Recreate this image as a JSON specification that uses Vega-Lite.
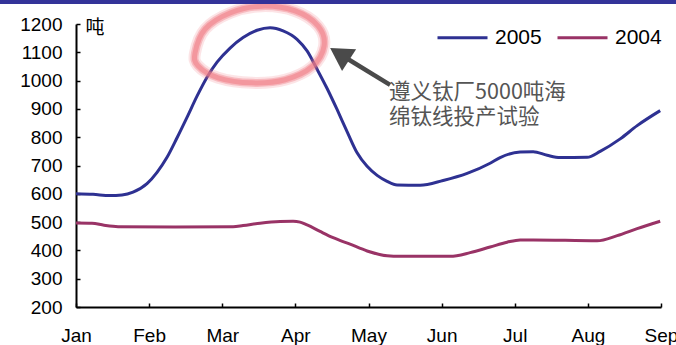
{
  "$schema": "https://vega.github.io/schema/vega-lite/v6.json",
  "width": 585,
  "height": 283,
  "autosize": {"type": "none"},
  "padding": {"left": 76, "top": 24, "right": 15, "bottom": 38},
  "background": "white",
  "config": {
    "view": {"stroke": null},
    "font": "Liberation Sans"
  },
  "datasets": {
    "output": [
      {"year": "2005", "t": 0.000, "tons": 600},
      {"year": "2005", "t": 0.233, "tons": 598},
      {"year": "2005", "t": 0.465, "tons": 594},
      {"year": "2005", "t": 0.629, "tons": 596},
      {"year": "2005", "t": 0.780, "tons": 606},
      {"year": "2005", "t": 0.971, "tons": 636},
      {"year": "2005", "t": 1.108, "tons": 676},
      {"year": "2005", "t": 1.245, "tons": 729},
      {"year": "2005", "t": 1.382, "tons": 798},
      {"year": "2005", "t": 1.518, "tons": 870},
      {"year": "2005", "t": 1.655, "tons": 945},
      {"year": "2005", "t": 1.792, "tons": 1012},
      {"year": "2005", "t": 1.929, "tons": 1065},
      {"year": "2005", "t": 2.107, "tons": 1115},
      {"year": "2005", "t": 2.285, "tons": 1152},
      {"year": "2005", "t": 2.476, "tons": 1178},
      {"year": "2005", "t": 2.654, "tons": 1187},
      {"year": "2005", "t": 2.832, "tons": 1176},
      {"year": "2005", "t": 3.023, "tons": 1146},
      {"year": "2005", "t": 3.160, "tons": 1105},
      {"year": "2005", "t": 3.297, "tons": 1040},
      {"year": "2005", "t": 3.434, "tons": 972},
      {"year": "2005", "t": 3.570, "tons": 898},
      {"year": "2005", "t": 3.707, "tons": 820},
      {"year": "2005", "t": 3.844, "tons": 745},
      {"year": "2005", "t": 3.981, "tons": 697},
      {"year": "2005", "t": 4.118, "tons": 665},
      {"year": "2005", "t": 4.254, "tons": 644},
      {"year": "2005", "t": 4.391, "tons": 631},
      {"year": "2005", "t": 4.706, "tons": 630},
      {"year": "2005", "t": 5.021, "tons": 647},
      {"year": "2005", "t": 5.349, "tons": 672},
      {"year": "2005", "t": 5.663, "tons": 708},
      {"year": "2005", "t": 5.800, "tons": 728},
      {"year": "2005", "t": 6.074, "tons": 748},
      {"year": "2005", "t": 6.252, "tons": 749},
      {"year": "2005", "t": 6.443, "tons": 736},
      {"year": "2005", "t": 6.621, "tons": 728},
      {"year": "2005", "t": 6.990, "tons": 729},
      {"year": "2005", "t": 7.168, "tons": 750},
      {"year": "2005", "t": 7.442, "tons": 794},
      {"year": "2005", "t": 7.674, "tons": 841},
      {"year": "2005", "t": 7.989, "tons": 894},
      {"year": "2004", "t": 0.000, "tons": 497},
      {"year": "2004", "t": 0.219, "tons": 496},
      {"year": "2004", "t": 0.383, "tons": 489},
      {"year": "2004", "t": 0.575, "tons": 484},
      {"year": "2004", "t": 1.354, "tons": 483},
      {"year": "2004", "t": 2.148, "tons": 484},
      {"year": "2004", "t": 2.285, "tons": 488},
      {"year": "2004", "t": 2.517, "tons": 496},
      {"year": "2004", "t": 2.791, "tons": 502},
      {"year": "2004", "t": 2.969, "tons": 503},
      {"year": "2004", "t": 3.064, "tons": 500},
      {"year": "2004", "t": 3.160, "tons": 490},
      {"year": "2004", "t": 3.338, "tons": 467},
      {"year": "2004", "t": 3.516, "tons": 445},
      {"year": "2004", "t": 3.748, "tons": 422},
      {"year": "2004", "t": 3.981, "tons": 398},
      {"year": "2004", "t": 4.254, "tons": 381},
      {"year": "2004", "t": 4.432, "tons": 379},
      {"year": "2004", "t": 5.116, "tons": 379},
      {"year": "2004", "t": 5.390, "tons": 392},
      {"year": "2004", "t": 5.663, "tons": 412},
      {"year": "2004", "t": 5.896, "tons": 429},
      {"year": "2004", "t": 6.074, "tons": 437},
      {"year": "2004", "t": 6.252, "tons": 437},
      {"year": "2004", "t": 7.127, "tons": 434},
      {"year": "2004", "t": 7.401, "tons": 452},
      {"year": "2004", "t": 7.674, "tons": 477},
      {"year": "2004", "t": 7.989, "tons": 503}
    ],
    "ring": [
      {"i": 0, "t": 1.628, "tons": 1098},
      {"i": 1, "t": 1.765, "tons": 1182},
      {"i": 2, "t": 2.107, "tons": 1239},
      {"i": 3, "t": 2.544, "tons": 1263},
      {"i": 4, "t": 2.996, "tons": 1246},
      {"i": 5, "t": 3.311, "tons": 1193},
      {"i": 6, "t": 3.393, "tons": 1123},
      {"i": 7, "t": 3.228, "tons": 1049},
      {"i": 8, "t": 2.859, "tons": 1003},
      {"i": 9, "t": 2.408, "tons": 992},
      {"i": 10, "t": 1.943, "tons": 1010},
      {"i": 11, "t": 1.669, "tons": 1052}
    ],
    "arrow": [
      {"i": 0, "t": 4.295, "tons": 985},
      {"i": 1, "t": 3.605, "tons": 1094}
    ]
  },
  "encoding": {
    "x": {
      "field": "t",
      "type": "quantitative",
      "scale": {"domain": [0, 8], "nice": false, "zero": false},
      "axis": {
        "title": null,
        "values": [0, 1, 2, 3, 4, 5, 6, 7, 8],
        "labelExpr": "['Jan','Feb','Mar','Apr','May','Jun','Jul','Aug','Sep'][datum.value]",
        "grid": false,
        "domainColor": "#000000",
        "domainWidth": 2,
        "tickColor": "#000000",
        "tickWidth": 1.5,
        "tickSize": -4,
        "labelPadding": 23,
        "labelFontSize": 19,
        "labelColor": "#000000",
        "labelFont": "Liberation Sans",
        "labelFlush": false,
        "labelOverlap": false
      }
    },
    "y": {
      "field": "tons",
      "type": "quantitative",
      "scale": {"domain": [200, 1200], "nice": false, "zero": false},
      "axis": {
        "title": "吨",
        "titleAngle": 0,
        "titleX": 18.5,
        "titleY": 3,
        "titleAlign": "center",
        "titleBaseline": "middle",
        "titleFont": "Noto Sans CJK SC",
        "titleFontSize": 19,
        "titleFontWeight": "normal",
        "titleColor": "#000000",
        "values": [200, 300, 400, 500, 600, 700, 800, 900, 1000, 1100, 1200],
        "format": "d",
        "grid": false,
        "domainColor": "#000000",
        "domainWidth": 2,
        "tickColor": "#000000",
        "tickWidth": 1.5,
        "tickSize": -4,
        "labelPadding": 18,
        "labelFontSize": 19,
        "labelColor": "#000000",
        "labelFont": "Liberation Sans"
      }
    }
  },
  "layer": [
    {
      "data": {"name": "output"},
      "mark": {"type": "line", "interpolate": "monotone", "strokeWidth": 3},
      "encoding": {
        "color": {
          "field": "year",
          "type": "nominal",
          "scale": {"domain": ["2005", "2004"], "range": ["#2e3192", "#993366"]},
          "legend": {
            "orient": "none",
            "legendX": 360,
            "legendY": -13,
            "direction": "horizontal",
            "title": null,
            "symbolType": "stroke",
            "symbolSize": 2500,
            "symbolStrokeWidth": 3,
            "labelFontSize": 21,
            "labelFont": "Liberation Sans",
            "labelColor": "#000000",
            "labelOffset": 6,
            "columnPadding": 9,
            "padding": 0
          }
        }
      }
    },
    {
      "data": {"name": "ring"},
      "mark": {"type": "line", "interpolate": "cardinal-closed", "stroke": "#f07a84", "strokeWidth": 12, "opacity": 0.2},
      "encoding": {"order": {"field": "i", "type": "quantitative"}}
    },
    {
      "data": {"name": "ring"},
      "mark": {"type": "line", "interpolate": "cardinal-closed", "stroke": "#f07a84", "strokeWidth": 8, "opacity": 0.4},
      "encoding": {"order": {"field": "i", "type": "quantitative"}}
    },
    {
      "data": {"name": "ring"},
      "mark": {"type": "line", "interpolate": "cardinal-closed", "stroke": "#f07a84", "strokeWidth": 5, "opacity": 0.55},
      "encoding": {"order": {"field": "i", "type": "quantitative"}}
    },
    {
      "data": {"name": "arrow"},
      "mark": {"type": "line", "stroke": "#4a4a4a", "strokeWidth": 4.5},
      "encoding": {"order": {"field": "i", "type": "quantitative"}}
    },
    {
      "data": {"values": [{"t": 3.605, "tons": 1094}]},
      "mark": {"type": "point", "shape": "triangle-up", "size": 676, "angle": 302.7, "filled": true, "color": "#4a4a4a", "opacity": 1},
      "encoding": {}
    },
    {
      "data": {"values": [{"t": 4.282, "tons": 955, "note": ["遵义钛厂5000吨海", "绵钛线投产试验"]}]},
      "mark": {"type": "text", "align": "left", "baseline": "middle", "lineHeight": 25, "font": "Noto Sans CJK SC", "fontSize": 21.5, "color": "#555555"},
      "encoding": {"text": {"field": "note"}}
    },
    {
      "data": {"values": [{"x0": -1.04, "x1": 8.21, "y0": 1270.4, "y1": 1290}]},
      "mark": {"type": "rect", "color": "#333399", "clip": false},
      "encoding": {
        "x": {"field": "x0", "type": "quantitative"},
        "x2": {"field": "x1"},
        "y": {"field": "y0", "type": "quantitative"},
        "y2": {"field": "y1"}
      }
    }
  ]
}
